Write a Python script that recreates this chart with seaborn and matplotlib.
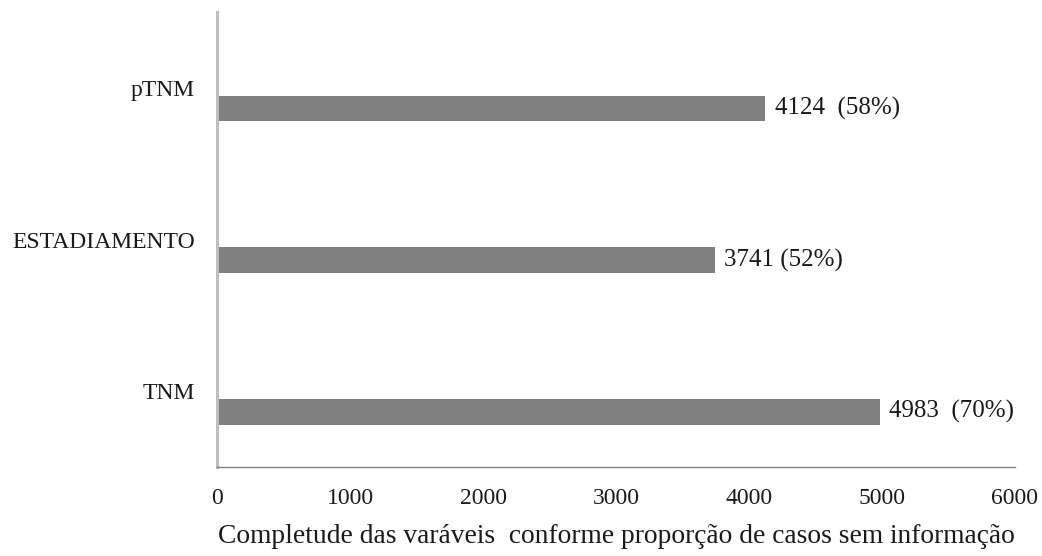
import matplotlib
matplotlib.use('Agg')
import matplotlib.pyplot as plt
import seaborn as sns
import pandas as pd

# Données du graphique
variaveis = ['pTNM', 'ESTADIAMENTO', 'TNM']
casos_sem_info = [4124, 3741, 4983]
proporcoes = ['58%', '52%', '70%']
rotulos = ['4124  (58%)', '3741 (52%)', '4983  (70%)']
ticks_x = [0, 1000, 2000, 3000, 4000, 5000, 6000]

df = pd.DataFrame({'variavel': variaveis, 'casos': casos_sem_info})

sns.set_theme(style='white')
plt.rcParams['font.family'] = ['Liberation Serif', 'DejaVu Serif']

fig, ax = plt.subplots(figsize=(10.42, 5.56), dpi=100)
fig.subplots_adjust(left=0.2083, right=0.974, top=0.978, bottom=0.16)

sns.barplot(data=df, x='casos', y='variavel', orient='h', color='#808080',
            saturation=1, width=0.17, ax=ax)

# Décaler les barres vers le bas (comme dans Excel)
for p in ax.patches:
    p.set_y(p.get_y() + 0.135)
    p.set_edgecolor('none')

for p, txt in zip(ax.patches, rotulos):
    ax.text(p.get_width() + 70, p.get_y() + p.get_height() / 2, txt,
            va='center', ha='left', fontsize=18, color='#1a1a1a')

ax.set_xlim(0, 6000)
ax.set_ylim(2.5, -0.5)
ax.set_xticks(ticks_x)
ax.set_xticklabels([str(t) for t in ticks_x])
ax.tick_params(axis='x', length=0, pad=15, labelsize=17, colors='#1a1a1a')
ax.tick_params(axis='y', length=0, pad=16, labelsize=17, colors='#1a1a1a')
ax.set_ylabel('')
ax.set_xlabel('Completude das varáveis  conforme proporção de casos sem informação',
              fontsize=19.8, color='#1a1a1a', labelpad=11)

sns.despine(ax=ax, top=True, right=True)
ax.spines['left'].set_color('#bfbfbf')
ax.spines['left'].set_linewidth(2.2)
ax.spines['bottom'].set_color('#808080')
ax.spines['bottom'].set_linewidth(1.0)

plt.savefig('out.png', dpi=100)
